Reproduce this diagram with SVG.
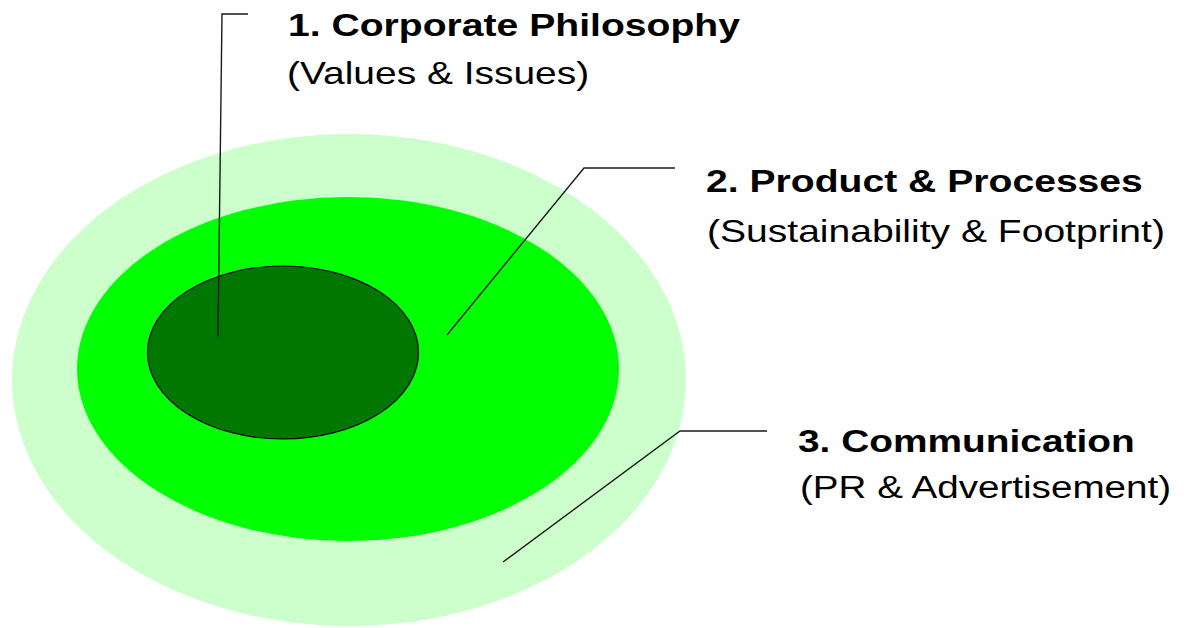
<svg xmlns="http://www.w3.org/2000/svg" width="1184" height="628" viewBox="0 0 1184 628">
  <style>
    .t { font-family: "Liberation Sans", Arial, sans-serif; font-size: 31px; fill: #000; }
    .b { font-weight: bold; }
    .lead { fill: none; stroke: #1a1a1a; stroke-width: 1.4; stroke-linejoin: miter; }
  </style>
  <rect x="0" y="0" width="1184" height="628" fill="#ffffff"/>
  <g id="ring-communication">
    <ellipse cx="349" cy="380" rx="337" ry="246" fill="#ccffcc"/>
  </g>
  <g id="ring-product">
    <ellipse cx="348" cy="369" rx="271" ry="172" fill="#00ff00"/>
  </g>
  <g id="ring-philosophy">
    <ellipse cx="283" cy="352.5" rx="135.5" ry="86.5" fill="#007800" stroke="#000" stroke-width="1.2"/>
  </g>
  <g id="connectors">
    <polyline class="lead" points="218,337 222,14 248,14"/>
    <polyline class="lead" points="447,335 584,168 675,168"/>
    <polyline class="lead" points="503,562 680,431 767,431"/>
  </g>
  <g id="label-philosophy">
    <text class="t b" transform="translate(288,36) scale(1.262,1)">1. Corporate Philosophy</text>
    <text class="t" transform="translate(287,84) scale(1.256,1)">(Values &amp; Issues)</text>
  </g>
  <g id="label-product">
    <text class="t b" transform="translate(706,192) scale(1.262,1)">2. Product &amp; Processes</text>
    <text class="t" transform="translate(707,242) scale(1.26,1)">(Sustainability &amp; Footprint)</text>
  </g>
  <g id="label-communication">
    <text class="t b" transform="translate(798,452) scale(1.254,1)">3. Communication</text>
    <text class="t" transform="translate(800,498) scale(1.245,1)">(PR &amp; Advertisement)</text>
  </g>
</svg>
